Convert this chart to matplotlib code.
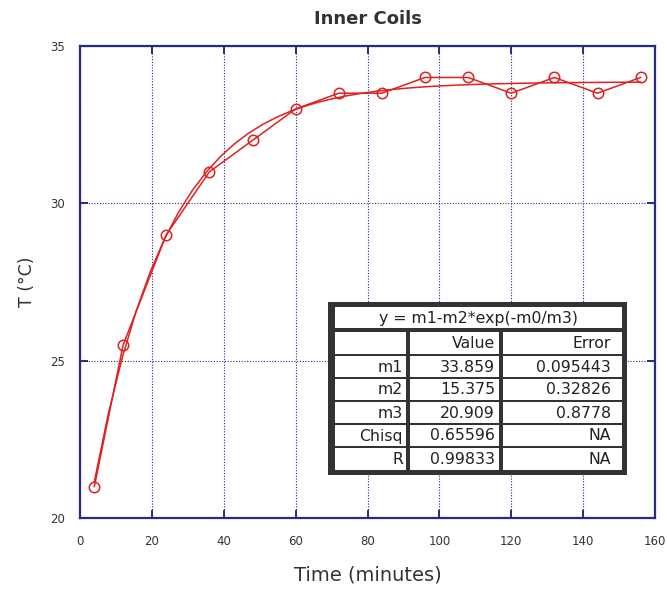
import numpy as np
import matplotlib
matplotlib.use("Agg")
import matplotlib.pyplot as plt
from matplotlib.patches import Rectangle

plt.rcParams['font.family'] = ['DejaVu Sans']

time_min = [4, 12, 24, 36, 48, 60, 72, 84, 96, 108, 120, 132, 144, 156]
temp_c = [21, 25.5, 29, 31, 32, 33, 33.5, 33.5, 34, 34, 33.5, 34, 33.5, 34]

fit_names = ["m1", "m2", "m3", "Chisq", "R"]
fit_values = ["33.859", "15.375", "20.909", "0.65596", "0.99833"]
fit_errors = ["0.095443", "0.32826", "0.8778", "NA", "NA"]
m1, m2, m3 = 33.859, 15.375, 20.909

W, H = 667, 589
fig = plt.figure(figsize=(W / 100, H / 100), dpi=100)
ax = fig.add_axes([80 / W, 1 - 518 / H, (655 - 80) / W, (518 - 46) / H])

navy = '#2a2a86'
red = '#e02020'
txt = '#333333'

xf = np.linspace(time_min[0], time_min[-1], 40)
yf = m1 - m2 * np.exp(-xf / m3)
ax.plot(xf, yf, color=red, lw=1.1, zorder=3)
ax.plot(time_min, temp_c, color=red, lw=1.1, marker='o', ms=7.5,
        mfc='none', mec=red, mew=1.1, zorder=4)

ax.set_xlim(0, 160)
ax.set_ylim(20, 35)
ax.set_xticks(range(0, 161, 20))
ax.set_yticks([20, 25, 30, 35])
ax.grid(True, color=navy, ls=(0, (1, 1.5)), lw=0.8)
for s in ax.spines.values():
    s.set_color(navy)
    s.set_linewidth(1.6)
ax.tick_params(direction='in', length=6, width=1.4, color=navy,
               top=True, right=True, labelsize=8.5, labelcolor=txt)
ax.tick_params(axis='x', pad=12)
ax.tick_params(axis='y', pad=11)
ax.set_xlabel('Time (minutes)', fontsize=14, color=txt, labelpad=13)
ax.set_ylabel('T (°C)', fontsize=12.5, color=txt, labelpad=10)
ax.set_title('Inner Coils', fontsize=13, fontweight='bold', color=txt, pad=16)


def fx(px):
    return px / W


def fy(py):
    return 1 - py / H


def rect(x0, y0, x1, y1, color):
    fig.patches.append(Rectangle((fx(x0), fy(y1)), fx(x1) - fx(x0), fy(y0) - fy(y1),
                                 transform=fig.transFigure, facecolor=color,
                                 edgecolor='none', zorder=5))


dark = '#333333'
rect(328, 302, 627, 475, dark)
col_lr = [(335, 406), (410, 499), (503, 622)]
pads = [3, 4, 11]
rect(335, 307, 622, 328, 'white')
fig.text((fx(335) + fx(622)) / 2, fy(318), 'y = m1-m2*exp(-m0/m3)',
         ha='center', va='center', fontsize=11.3, color='#222222', zorder=6)
row_top = 332
row_h = (470 - 332) / 6
table_rows = [("", "Value", "Error")] + list(zip(fit_names, fit_values, fit_errors))
for r, rowvals in enumerate(table_rows):
    top = row_top + row_h * r + (1 if r > 0 else 0)
    bot = row_top + row_h * (r + 1) - (1 if r < 5 else 0)
    for c in range(3):
        left, right = col_lr[c]
        rect(left, top, right, bot, 'white')
        fig.text(fx(right - pads[c]), fy((top + bot) / 2 + 0.5), rowvals[c],
                 ha='right', va='center', fontsize=11.3, color='#222222', zorder=6)

fig.savefig('out.png', dpi=100)
